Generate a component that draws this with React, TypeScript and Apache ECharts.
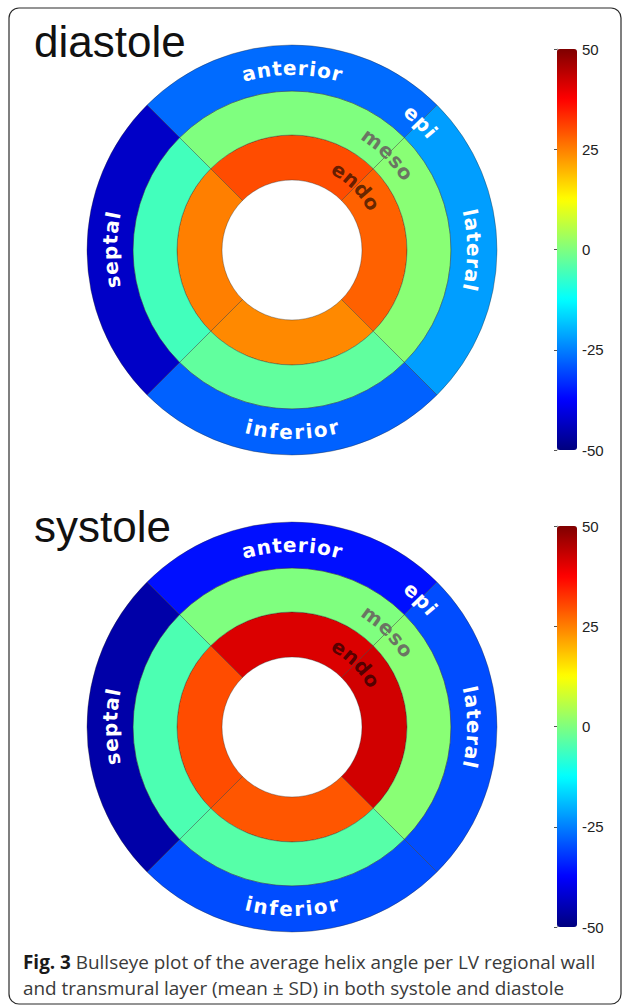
import React, { useEffect, useRef } from 'react';
import * as echarts from 'echarts';

// ---- data ----
const walls = ['anterior', 'lateral', 'inferior', 'septal'];
const layers = ['endo', 'meso', 'epi'];
const phases = ['diastole', 'systole'];
// helix angle (deg) per wall, order: anterior, lateral, inferior, septal
const diastoleEndo = [30, 28, 24, 25];
const diastoleMeso = [0, 1, -3, -6];
const diastoleEpi = [-27, -22, -28, -43];
const systoleEndo = [41, 42, 29, 30];
const systoleMeso = [0, 1, -4, -5];
const systoleEpi = [-36, -30, -30, -46];
const colorbarTicks = [-50, -25, 0, 25, 50];
const captionBold = 'Fig. 3';
const captionLine1 = ' Bullseye plot of the average helix angle per LV regional wall';
const captionLine2 = 'and transmural layer (mean \u00b1 SD) in both systole and diastole';

const jetColors = ['#00007f', '#0000ff', '#007fff', '#00ffff', '#7fff7f', '#ffff00', '#ff7f00', '#ff0000', '#7f0000'];

// ---- layout ----
const W = 627;
const H = 1006;
const CX = 292;
const CY = [250, 727];
const RADII = [70, 115, 159, 205];
const CB_LEFT = 557;
const CB_TOP = [49, 526];
const CB_H = 401;
const TITLE_BASE = [56, 541];

let measureCtx: CanvasRenderingContext2D | null = null;
function measure(text: string, font: string) {
  if (!measureCtx) measureCtx = document.createElement('canvas').getContext('2d');
  measureCtx!.font = font;
  return measureCtx!.measureText(text).width;
}

function arcText(
  text: string, cx: number, cy: number, r: number, centerDeg: number,
  fontSize: number, weight: string, family: string, color: string, spacing: number, outward: boolean
) {
  const font = `${weight} ${fontSize}px ${family}`;
  const chars = Array.from(text);
  const widths = chars.map((c) => measure(c, font));
  const total = widths.reduce((a, b) => a + b, 0) + spacing * (chars.length - 1);
  let s = -total / 2;
  const c0 = (centerDeg * Math.PI) / 180;
  return chars.map((ch, i) => {
    const mid = s + widths[i] / 2;
    s += widths[i] + spacing;
    const d = mid / r;
    const ang = outward ? c0 - d : c0 + d;
    return {
      type: 'text',
      x: cx + r * Math.cos(ang),
      y: cy - r * Math.sin(ang),
      rotation: outward ? ang - Math.PI / 2 : ang + Math.PI / 2,
      silent: true,
      z: 10,
      style: {
        text: ch, fill: color, fontSize, fontWeight: weight, fontFamily: family,
        align: 'center', verticalAlign: 'middle',
      },
    };
  });
}

export default function App() {
  const ref = useRef<HTMLDivElement>(null);
  useEffect(() => {
    document.body.style.margin = '0';
    const chart = echarts.init(ref.current!, null, { renderer: 'svg' });
    const values = [
      [diastoleEndo, diastoleMeso, diastoleEpi],
      [systoleEndo, systoleMeso, systoleEpi],
    ];
    const series: any[] = [];
    phases.forEach((ph, p) => {
      layers.forEach((ly, l) => {
        series.push({
          type: 'pie',
          name: `${ph} ${ly}`,
          center: [CX, CY[p]],
          radius: [RADII[l], RADII[l + 1]],
          startAngle: 135,
          clockwise: true,
          silent: true,
          label: { show: false },
          labelLine: { show: false },
          emphasis: { disabled: true },
          itemStyle: { borderColor: 'rgba(40,40,40,0.45)', borderWidth: 0.8 },
          data: walls.map((w, i) => ({ name: w, value: [1, values[p][l][i]] })),
        });
      });
    });

    const lblFamily = 'DejaVu Sans';
    const lblSize = 20;
    const lblSpace = 1.4;
    const graphic: any[] = [
      {
        type: 'rect', silent: true, z: 1,
        shape: { x: 9, y: 8, width: 612, height: 996, r: 10 },
        style: { fill: 'none', stroke: '#2b2b2b', lineWidth: 1.2 },
      },
    ];
    phases.forEach((ph, p) => {
      const cy = CY[p];
      graphic.push({
        type: 'text', x: 34, y: TITLE_BASE[p] - 15, silent: true,
        style: { text: ph, fill: '#111', fontSize: 44, fontFamily: 'Liberation Sans', align: 'left', verticalAlign: 'middle' },
      });
      const rOut = (RADII[2] + RADII[3]) / 2;
      graphic.push(...arcText(walls[0], CX, cy, rOut, 90, lblSize, 'bold', lblFamily, '#ffffff', lblSpace, true));
      graphic.push(...arcText(walls[1], CX, cy, rOut, 0, lblSize, 'bold', lblFamily, '#ffffff', lblSpace, true));
      graphic.push(...arcText(walls[2], CX, cy, rOut, 270, lblSize, 'bold', lblFamily, '#ffffff', lblSpace, false));
      graphic.push(...arcText(walls[3], CX, cy, rOut, 180, lblSize, 'bold', lblFamily, '#ffffff', lblSpace, true));
      const layerColors = ['rgba(0,0,0,0.62)', '#6b7563', '#ffffff'];
      layers.forEach((ly, l) => {
        const r = (RADII[l] + RADII[l + 1]) / 2;
        graphic.push(...arcText(ly, CX, cy, r, 45, lblSize, 'bold', lblFamily, layerColors[l], lblSpace, true));
      });
    });
    const capFont = 'Open Sans';
    const capSize = 18.9;
    const boldW = measure(captionBold, `bold ${capSize}px ${capFont}`);
    graphic.push(
      { type: 'text', x: 23, y: 962, silent: true, style: { text: captionBold, fill: '#1a1a1a', fontSize: capSize, fontWeight: 'bold', fontFamily: capFont, verticalAlign: 'middle' } },
      { type: 'text', x: 23 + boldW, y: 962, silent: true, style: { text: captionLine1, fill: '#3a3a3a', fontSize: capSize, fontFamily: capFont, verticalAlign: 'middle' } },
      { type: 'text', x: 23, y: 988, silent: true, style: { text: captionLine2, fill: '#3a3a3a', fontSize: capSize, fontFamily: capFont, verticalAlign: 'middle' } },
    );

    chart.setOption({
      animation: false,
      backgroundColor: '#ffffff',
      grid: phases.map((_, p) => ({ left: CB_LEFT, top: CB_TOP[p], width: 20, height: CB_H, show: false })),
      xAxis: phases.map((_, p) => ({ gridIndex: p, type: 'value', show: false })),
      yAxis: phases.map((_, p) => ({
        gridIndex: p,
        type: 'value',
        position: 'right',
        min: colorbarTicks[0],
        max: colorbarTicks[colorbarTicks.length - 1],
        interval: colorbarTicks[1] - colorbarTicks[0],
        axisLine: { show: true, lineStyle: { color: '#9a9a9a', width: 0.8 } },
        axisTick: { show: true, inside: true, length: 3, lineStyle: { color: '#555' } },
        splitLine: { show: false },
        axisLabel: { color: '#222', fontSize: 15, margin: 5, fontFamily: 'Liberation Sans' },
      })),
      visualMap: phases.map((_, p) => ({
        type: 'continuous',
        min: colorbarTicks[0],
        max: colorbarTicks[colorbarTicks.length - 1],
        dimension: 1,
        seriesIndex: [p * 3, p * 3 + 1, p * 3 + 2],
        inRange: { color: jetColors },
        calculable: false,
        hoverLink: false,
        orient: 'vertical',
        left: CB_LEFT,
        top: CB_TOP[p],
        itemWidth: 20,
        itemHeight: CB_H,
        padding: 0,
      })),
      series,
      graphic,
    });
    return () => chart.dispose();
  }, []);
  return <div ref={ref} style={{ width: W, height: H }} />;
}
